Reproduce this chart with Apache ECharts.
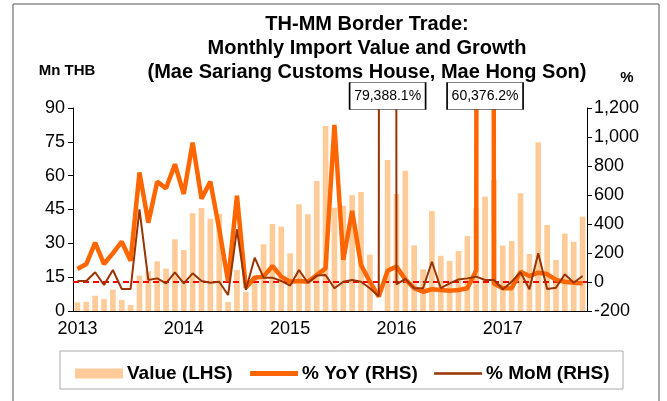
<!DOCTYPE html>
<html>
<head>
<meta charset="utf-8">
<script src="https://cdn.jsdelivr.net/npm/echarts@6/dist/echarts.min.js"></script>
<style>
  html, body { margin: 0; padding: 0; background: #fff; }
  #chart { width: 667px; height: 401px; }
</style>
</head>
<body>
<div id="chart"></div>
<script>
"use strict";

// months Jan 2013 .. Oct 2017
const months = [];
for (let y = 2013; y <= 2017; y++) {
  for (let m = 1; m <= 12; m++) {
    if (y === 2017 && m > 10) break;
    months.push(y + "-" + String(m).padStart(2, "0"));
  }
}

// Mn THB
const importValue = [
  3.8, 4.1, 6.8, 5.3, 9.5, 4.9, 2.7, 15.7, 17.6, 22.0,
  18.8, 31.8, 27.0, 43.4, 45.7, 40.9, 43.0, 4.0, 18.2, 8.5,
  15.7, 29.6, 38.6, 37.4, 25.6, 47.3, 42.9, 57.6, 82.0, 45.8,
  46.7, 51.4, 52.8, 25.0, 0.08, 66.9, 51.9, 62.2, 29.1, 18.5,
  44.3, 24.5, 22.2, 26.6, 33.2, 45.5, 50.7, 58.0, 29.0, 31.0,
  52.2, 25.3, 74.8, 38.1, 22.6, 34.3, 30.7, 41.8
];

// % YoY
const yoy = [
  90, 124, 271, 124, 198, 278, 147, 756, 409, 692,
  646, 812, 607, 961, 575, 692, 365, 5, 595, -40,
  30, 37, 110, 37, 2, 7, 2, 48, 94, 1083,
  152, 490, 117, 2, -101, 78, 106, 18, -43, -67,
  -50, -55, -60, -55, -43, 80, 60376.2, -11, -43, -43,
  71, 41, 64, 55, 14, 2, -5, -9
];

// % MoM
const mom = [
  7, 7, 67, -21, 83, -48, -48, 501, 14, 25,
  -9, 67, -9, 60, 7, -5, 2, -90, 363, -55,
  168, 30, 30, 7, -25, 83, -5, 44, 48, -43,
  2, 14, 2, -43, -99, 79388.1, -16, 21, -43, -43,
  140, -43, -9, 18, 25, 37, 14, 14, -50, 2,
  67, -50, 198, -48, -39, 53, -5, 41
];

const leftTicks = { min: 0, max: 90, interval: 15 };
const rightTicks = { min: -200, max: 1200, interval: 200 };

const FONT = "'Liberation Sans', Arial, sans-serif";
const pct = (v) => v.toLocaleString("en-US", { minimumFractionDigits: 1, maximumFractionDigits: 1 }) + "%";

// off-scale value gets a box pinned at the top of the right axis
function callout(arr) {
  let idx = 0;
  arr.forEach((v, i) => { if (v > arr[idx]) idx = i; });
  return { coord: [idx, rightTicks.max], value: arr[idx] };
}

const calloutStyle = {
  symbol: "rect",
  symbolSize: [76, 27],
  symbolOffset: [0, -12],
  itemStyle: { color: "#fff", borderColor: "#000", borderWidth: 1 },
  label: { show: true, position: "inside", color: "#000", fontFamily: FONT, fontSize: 14, formatter: (p) => pct(p.value) },
};

const chart = echarts.init(document.getElementById("chart"), null, { renderer: "canvas" });

chart.setOption({
  animation: false,
  backgroundColor: "#fff",
  textStyle: { fontFamily: FONT, color: "#000" },
  title: {
    text: "TH-MM Border Trade:\nMonthly Import Value and Growth\n(Mae Sariang Customs House, Mae Hong Son)",
    left: 362,
    top: 7,
    textAlign: "center",
    textStyle: { fontFamily: FONT, fontSize: 20, fontWeight: "bold", color: "#000", lineHeight: 24 },
  },
  graphic: [
    { type: "rect", shape: { x: 13, y: 4, width: 646, height: 420 }, style: { fill: null, stroke: "#555", lineWidth: 1 }, silent: true, z: -1 },
    { type: "rect", shape: { x: 60, y: 351, width: 563, height: 38 }, style: { fill: null, stroke: "#aaa", lineWidth: 1 }, silent: true, z: -1 },
  ],
  legend: {
    left: 70,
    top: 359,
    itemWidth: 48,
    itemHeight: 10,
    itemGap: 15,
    textStyle: { fontFamily: FONT, fontSize: 19, fontWeight: "bold", color: "#000", padding: [0, 0, 0, -1] },
    data: [
      { name: "Value (LHS)", icon: "rect" },
      { name: "% YoY (RHS)", itemStyle: { opacity: 0 }, lineStyle: { width: 5 } },
      { name: "% MoM (RHS)", itemStyle: { opacity: 0 }, lineStyle: { width: 2.5 } },
    ],
  },
  grid: { left: 73, right: 80, top: 108, bottom: 90 },
  xAxis: {
    type: "category",
    data: months,
    boundaryGap: true,
    axisLine: { lineStyle: { color: "#000", width: 1 } },
    axisTick: { interval: 11, length: 5, lineStyle: { color: "#000" } },
    axisLabel: {
      interval: 11,
      margin: 9,
      fontSize: 18,
      color: "#000",
      fontFamily: FONT,
      formatter: (v) => v.slice(0, 4),
    },
    splitLine: { show: false },
  },
  yAxis: [
    {
      type: "value",
      min: leftTicks.min, max: leftTicks.max, interval: leftTicks.interval,
      name: "Mn THB",
      nameLocation: "end",
      nameGap: 30,
      nameTextStyle: { fontFamily: FONT, fontSize: 15, fontWeight: "bold", color: "#000", padding: [0, 12, 0, 0] },
      axisLine: { show: true, lineStyle: { color: "#000" } },
      axisTick: { show: true, length: 5, lineStyle: { color: "#000" } },
      axisLabel: { fontSize: 18, color: "#000", fontFamily: FONT, margin: 8 },
      splitLine: { show: false },
    },
    {
      type: "value",
      min: rightTicks.min, max: rightTicks.max, interval: rightTicks.interval,
      name: "%",
      nameLocation: "end",
      nameGap: 23,
      nameTextStyle: { fontFamily: FONT, fontSize: 15, fontWeight: "bold", color: "#000", padding: [0, 0, 0, 80] },
      axisLine: { show: true, lineStyle: { color: "#000" } },
      axisTick: { show: true, length: 5, lineStyle: { color: "#000" } },
      axisLabel: {
        fontSize: 18, color: "#000", fontFamily: FONT, margin: 7,
        formatter: (v) => v.toLocaleString("en-US"),
      },
      splitLine: { show: false },
    },
  ],
  series: [
    {
      name: "Value (LHS)",
      type: "bar",
      yAxisIndex: 0,
      data: importValue,
      barCategoryGap: "36%",
      itemStyle: { color: "#FFCC99" },
      z: 1,
    },
    {
      name: "% YoY (RHS)",
      type: "line",
      yAxisIndex: 1,
      data: yoy,
      symbol: "none",
      clip: true,
      lineStyle: { color: "#FF6600", width: 4.5 },
      itemStyle: { color: "#FF6600" },
      markLine: {
        silent: true,
        symbol: "none",
        label: { show: false },
        lineStyle: { color: "#FF0000", type: [6, 4], width: 2 },
        data: [{ yAxis: 0 }],
        z: 3,
      },
      markPoint: Object.assign({ data: [callout(yoy)] }, calloutStyle),
      z: 3,
    },
    {
      name: "% MoM (RHS)",
      type: "line",
      yAxisIndex: 1,
      data: mom,
      symbol: "none",
      clip: true,
      lineStyle: { color: "#993300", width: 2 },
      itemStyle: { color: "#993300" },
      markPoint: Object.assign({ data: [callout(mom)] }, calloutStyle),
      z: 4,
    },
  ],
});
</script>
</body>
</html>
